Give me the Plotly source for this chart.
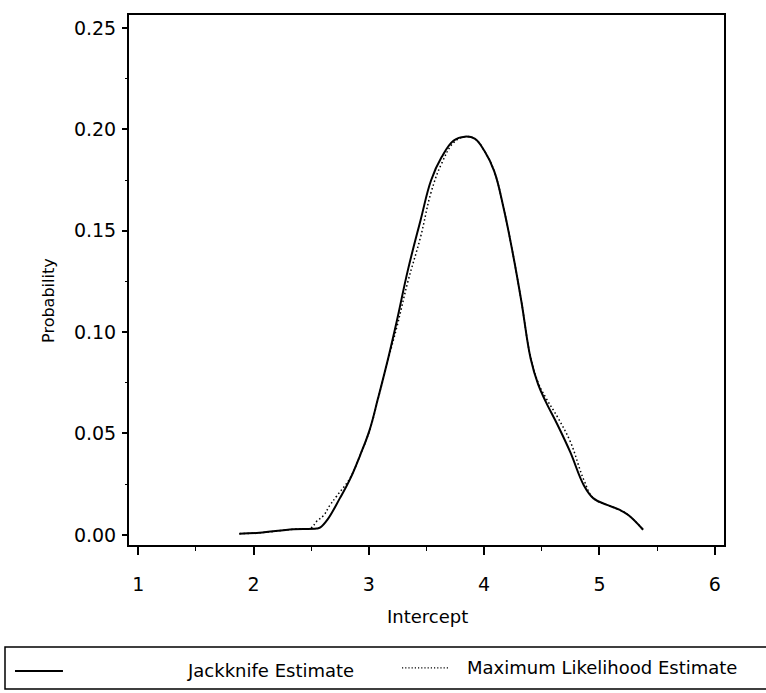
import plotly.graph_objects as go

# Jackknife estimate (solid)
jk_x = [1.877, 2.051, 2.345, 2.545, 2.58, 2.641, 2.748, 2.837, 2.926, 3.007, 3.079, 3.171,
        3.245, 3.339, 3.449, 3.540, 3.630, 3.736, 3.832, 3.918, 4.003, 4.087, 4.169,
        4.250, 4.323, 4.403, 4.469, 4.535, 4.637, 4.747, 4.865, 4.948, 5.060, 5.172,
        5.250, 5.379]
jk_y = [0.0006, 0.0010, 0.0028, 0.0031, 0.0037, 0.0075, 0.0180, 0.0275, 0.0395, 0.0518, 0.0672,
        0.0879, 0.1061, 0.1307, 0.1553, 0.1749, 0.1862, 0.1945, 0.1964, 0.1954, 0.1893,
        0.1794, 0.1611, 0.1384, 0.1151, 0.0870, 0.0741, 0.0656, 0.0542, 0.0408, 0.0244,
        0.0180, 0.0149, 0.0124, 0.0098, 0.0025]

# Maximum likelihood estimate (dotted)
ml_x = [1.877, 2.051, 2.345, 2.50, 2.546, 2.607, 2.660, 2.722, 2.837, 2.926, 3.007, 3.079,
        3.171, 3.245, 3.339, 3.449, 3.540, 3.630, 3.736, 3.832, 3.918, 4.003, 4.087,
        4.169, 4.250, 4.323, 4.403, 4.469, 4.535, 4.637, 4.747, 4.865, 4.948, 5.060,
        5.172, 5.250, 5.379]
ml_y = [0.0006, 0.0010, 0.0028, 0.0035, 0.0066, 0.0095, 0.0144, 0.0192, 0.0280, 0.0395,
        0.0515, 0.0668, 0.0872, 0.1030, 0.1250, 0.1470, 0.1690, 0.1830, 0.1935, 0.1964,
        0.1954, 0.1893, 0.1794, 0.1611, 0.1384, 0.1151, 0.0875, 0.0750, 0.0676, 0.0580,
        0.0460, 0.0270, 0.0180, 0.0149, 0.0124, 0.0098, 0.0025]

x_ticks = [1, 2, 3, 4, 5, 6]
y_ticks = [0.00, 0.05, 0.10, 0.15, 0.20, 0.25]
series_names = ["Jackknife Estimate", "Maximum Likelihood Estimate"]

FONT = "DejaVu Sans"

fig = go.Figure()
fig.add_trace(go.Scatter(x=jk_x, y=jk_y, mode="lines", name=series_names[0],
                         line=dict(color="black", width=2, shape="spline", smoothing=1.15),
                         showlegend=False))
fig.add_trace(go.Scatter(x=ml_x, y=ml_y, mode="lines", name=series_names[1],
                         line=dict(color="black", width=1.5, dash="1.5px,2.5px",
                                   shape="spline", smoothing=1.15),
                         showlegend=False))

fig.update_layout(
    width=766, height=693,
    margin=dict(l=129, r=42, t=15, b=148),
    paper_bgcolor="white", plot_bgcolor="white",
    font=dict(family=FONT, size=19, color="black"),
    xaxis=dict(range=[0.92, 6.08], tickvals=x_ticks, ticktext=[str(v) for v in x_ticks],
               ticks="outside", ticklen=8, tickwidth=1.5, tickcolor="black",
               minor=dict(dtick=0.5, tick0=0, ticks="outside", ticklen=4, tickwidth=1.2,
                          tickcolor="black", showgrid=False),
               showline=True, linecolor="black", linewidth=2, mirror=True,
               showgrid=False, zeroline=False, ticklabelstandoff=13),
    yaxis=dict(range=[-0.005, 0.2564], tickvals=y_ticks,
               ticktext=["%.2f" % v for v in y_ticks],
               ticks="outside", ticklen=5, tickwidth=1.5, tickcolor="black",
               minor=dict(dtick=0.025, tick0=0, ticks="outside", ticklen=2, tickwidth=1,
                          tickcolor="black", showgrid=False),
               showline=True, linecolor="black", linewidth=2, mirror=True,
               showgrid=False, zeroline=False, ticklabelstandoff=2),
)

# axis titles
fig.add_annotation(text="Intercept", xref="paper", yref="paper", x=0.5025, y=-0.1358,
                   xanchor="center", yanchor="middle", showarrow=False,
                   font=dict(family=FONT, size=18))
fig.add_annotation(text="Probability", xref="paper", yref="paper", x=-0.1345, y=0.4623,
                   xanchor="center", yanchor="middle", showarrow=False, textangle=-90,
                   font=dict(family=FONT, size=16))

# legend box
fig.add_shape(type="rect", xref="paper", yref="paper", x0=-0.2084, x1=1.10,
              y0=-0.2717, y1=-0.1925, line=dict(color="black", width=1.5))
fig.add_shape(type="line", xref="paper", yref="paper", x0=-0.1916, x1=-0.111,
              y0=-0.2377, y1=-0.2377, line=dict(color="black", width=2))
fig.add_annotation(text=series_names[0], xref="paper", yref="paper", x=0.0941, y=-0.2377,
                   xanchor="left", yanchor="middle", showarrow=False,
                   font=dict(family=FONT, size=18))
fig.add_shape(type="line", xref="paper", yref="paper", x0=0.4588, x1=0.5395,
              y0=-0.232, y1=-0.232, line=dict(color="black", width=1.2, dash="1.2px,2px"))
fig.add_annotation(text=series_names[1], xref="paper", yref="paper", x=0.5647, y=-0.2320,
                   xanchor="left", yanchor="middle", showarrow=False,
                   font=dict(family=FONT, size=18))

fig.write_html("out.html")
